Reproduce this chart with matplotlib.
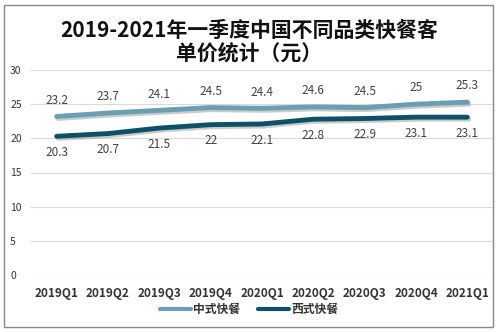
import matplotlib
matplotlib.use("Agg")
import matplotlib.pyplot as plt
import matplotlib.patheffects as pe
from matplotlib.patches import Rectangle

plt.rcParams['font.family'] = ['Noto Sans CJK SC', 'DejaVu Sans']

quarters = ['2019Q1', '2019Q2', '2019Q3', '2019Q4', '2020Q1',
            '2020Q2', '2020Q3', '2020Q4', '2021Q1']
chinese = [23.2, 23.7, 24.1, 24.5, 24.4, 24.6, 24.5, 25, 25.3]
western = [20.3, 20.7, 21.5, 22, 22.1, 22.8, 22.9, 23.1, 23.1]
yticks = [0, 5, 10, 15, 20, 25, 30]

c_light = '#6b9db3'
c_dark = '#0f5069'

fig = plt.figure(figsize=(4.98, 3.32), dpi=100)
fig.patches.append(Rectangle((4 / 498, 5 / 332), 489 / 498, 322 / 332,
                             transform=fig.transFigure, fill=False,
                             edgecolor='#888888', linewidth=1))
ax = fig.add_axes([31 / 498, 57 / 332, 462 / 498, 205 / 332])

x = list(range(len(quarters)))
shadow = [pe.SimpleLineShadow(offset=(1, -1.5), shadow_color='#999999', alpha=0.5), pe.Normal()]
ax.plot(x, chinese, color=c_light, lw=3.5, solid_capstyle='round',
        path_effects=shadow, label='中式快餐', zorder=3)
ax.plot(x, western, color=c_dark, lw=3.5, solid_capstyle='round',
        path_effects=shadow, label='西式快餐', zorder=3)

for i, v in enumerate(chinese):
    ax.annotate(f'{v:g}', (i, v), xytext=(0, 7), textcoords='offset points',
                ha='center', va='bottom', fontsize=8.5, color='#404040')
for i, v in enumerate(western):
    ax.annotate(f'{v:g}', (i, v), xytext=(0, -7), textcoords='offset points',
                ha='center', va='top', fontsize=8.5, color='#404040')

ax.set_xlim(-0.5, len(quarters) - 0.5)
ax.set_ylim(0, 30)
ax.set_yticks(yticks)
ax.set_xticks(x)
ax.set_xticklabels(quarters, fontsize=8.5, fontweight='bold', color='#333333')
ax.set_yticklabels([str(t) for t in yticks], fontsize=7.5, color='#333333')
ax.tick_params(length=0)
ax.tick_params(axis='y', pad=15)
for lab in ax.get_yticklabels():
    lab.set_horizontalalignment('left')
ax.tick_params(axis='x', pad=9)
ax.grid(axis='y', color='#d9d9d9', lw=0.8)
ax.set_axisbelow(True)
for s in ax.spines.values():
    s.set_visible(False)

fig.text(0.5, 0.872, '2019-2021年一季度中国不同品类快餐客\n单价统计（元）',
         ha='center', va='center', fontsize=15, fontweight='semibold',
         linespacing=1.15, color='#111111')

leg = fig.legend(loc='center', bbox_to_anchor=(0.5, 0.068), ncol=2,
                 frameon=False, fontsize=8.5, handlelength=2.6,
                 columnspacing=1.5, handletextpad=0.2)
for t in leg.get_texts():
    t.set_color('#333333')
    t.set_fontweight('bold')
for h in leg.get_lines():
    h.set_linewidth(3)
    h.set_path_effects([])

fig.savefig('out.png', dpi=100)
